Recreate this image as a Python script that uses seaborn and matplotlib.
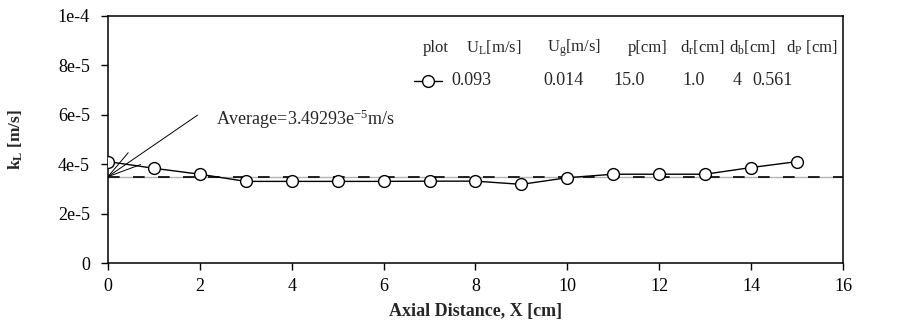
import numpy as np
import pandas as pd
import matplotlib
matplotlib.use("Agg")
import matplotlib.pyplot as plt
from matplotlib.lines import Line2D
import seaborn as sns

# Mass transfer coefficient along the axial direction
axial_x = [0, 1, 2, 3, 4, 5, 6, 7, 8, 9, 10, 11, 12, 13, 14, 15]
k_l = [4.10e-5, 3.83e-5, 3.59e-5, 3.30e-5, 3.30e-5, 3.30e-5, 3.30e-5, 3.31e-5,
       3.31e-5, 3.18e-5, 3.45e-5, 3.59e-5, 3.59e-5, 3.59e-5, 3.86e-5, 4.10e-5]
k_l_average = 3.49293e-5

y_ticks = [0, 2e-5, 4e-5, 6e-5, 8e-5, 1e-4]
y_tick_labels = ["0", "2e-5", "4e-5", "6e-5", "8e-5", "1e-4"]
x_ticks = [0, 2, 4, 6, 8, 10, 12, 14, 16]

legend_headers = ["plot", r"U$_\mathrm{L}$[m/s]", r"U$_\mathrm{g}$[m/s]", "p[cm]",
                  r"d$_\mathrm{r}$[cm]", r"d$_\mathrm{b}$[cm]", r"d$_\mathrm{P}$ [cm]"]
legend_values = ["0.093", "0.014", "15.0", "1.0", "4", "0.561"]

sns.set_style("ticks")
plt.rcParams["font.family"] = ["Liberation Serif", "DejaVu Serif"]
plt.rcParams["mathtext.fontset"] = "custom"
plt.rcParams["mathtext.rm"] = "Liberation Serif"
plt.rcParams["mathtext.it"] = "Liberation Serif:italic"
plt.rcParams["mathtext.bf"] = "Liberation Serif:bold"

W, H = 904, 324
fig = plt.figure(figsize=(W / 100, H / 100), dpi=100)
ax = fig.add_axes([108 / W, 1 - 263 / H, (843 - 108) / W, (263 - 15.7) / H])

df = pd.DataFrame({"x": axial_x, "kL": k_l})

# reference lines at the average value
ax.axhline(k_l_average, color="#b4b4b4", lw=1.0, zorder=1)
ax.axhline(k_l_average, color="black", lw=1.2, dashes=(7, 8), zorder=1)

sns.lineplot(data=df, x="x", y="kL", ax=ax, color="black", lw=1.0,
             marker="o", markersize=8.5, markerfacecolor="white",
             markeredgecolor="black", markeredgewidth=1.0, zorder=3)

# leader lines fanning out from the average at x = 0
fan_ends = [(1.95, 5.98e-5), (0.44, 4.46e-5), (0.71, 3.98e-5)]
for ex, ey in fan_ends:
    ax.plot([0, ex], [k_l_average, ey], color="black", lw=0.7, zorder=2)

ax.text(2.35, 5.82e-5, r"Average=3.49293e$^{-5}$m/s", fontsize=13,
        va="center", ha="left")

ax.set_xlim(0, 16)
ax.set_ylim(0, 1e-4)
ax.set_xticks(x_ticks)
ax.set_xticklabels([str(v) for v in x_ticks])
ax.set_yticks(y_ticks)
ax.set_yticklabels(y_tick_labels)
ax.tick_params(axis="both", labelsize=13, direction="out", length=5,
               width=1.0, colors="black")
ax.tick_params(axis="y", pad=8)
ax.tick_params(axis="x", pad=6)
for s in ax.spines.values():
    s.set_linewidth(1.1)
    s.set_color("black")
    s.set_visible(True)

ax.set_xlabel("Axial Distance, X [cm]", fontsize=13, fontweight="bold")
ax.set_ylabel(r"k$_\mathbf{L}$ [m/s]", fontsize=12.5, fontweight="bold")
ax.yaxis.set_label_coords(-0.113, 0.5)
ax.xaxis.set_label_coords(0.5, -0.162)

# parameter table in the upper right, placed in axes fractions
header_pos = [0.4286, 0.4871, 0.5973, 0.7075, 0.7782, 0.8449, 0.9932]
header_row_y = 0.869
for i, (hx, txt) in enumerate(zip(header_pos, legend_headers)):
    ax.text(hx, header_row_y, txt, fontsize=12, va="center",
            ha="right" if i == len(legend_headers) - 1 else "left",
            transform=ax.transAxes)
value_pos = [0.4667, 0.5918, 0.6871, 0.7810, 0.8503, 0.8762]
value_row_y = 0.736
for vx, txt in zip(value_pos, legend_values):
    ax.text(vx, value_row_y, txt, fontsize=13, ha="left", va="center",
            transform=ax.transAxes)
ax.add_line(Line2D([0.4163, 0.4544], [value_row_y, value_row_y], color="black",
                   lw=1.0, transform=ax.transAxes, clip_on=False))
ax.add_line(Line2D([0.4354], [value_row_y], marker="o", markersize=8.5,
                   markerfacecolor="white", markeredgecolor="black",
                   markeredgewidth=1.0, transform=ax.transAxes, clip_on=False))

fig.savefig("out.png", dpi=100)
